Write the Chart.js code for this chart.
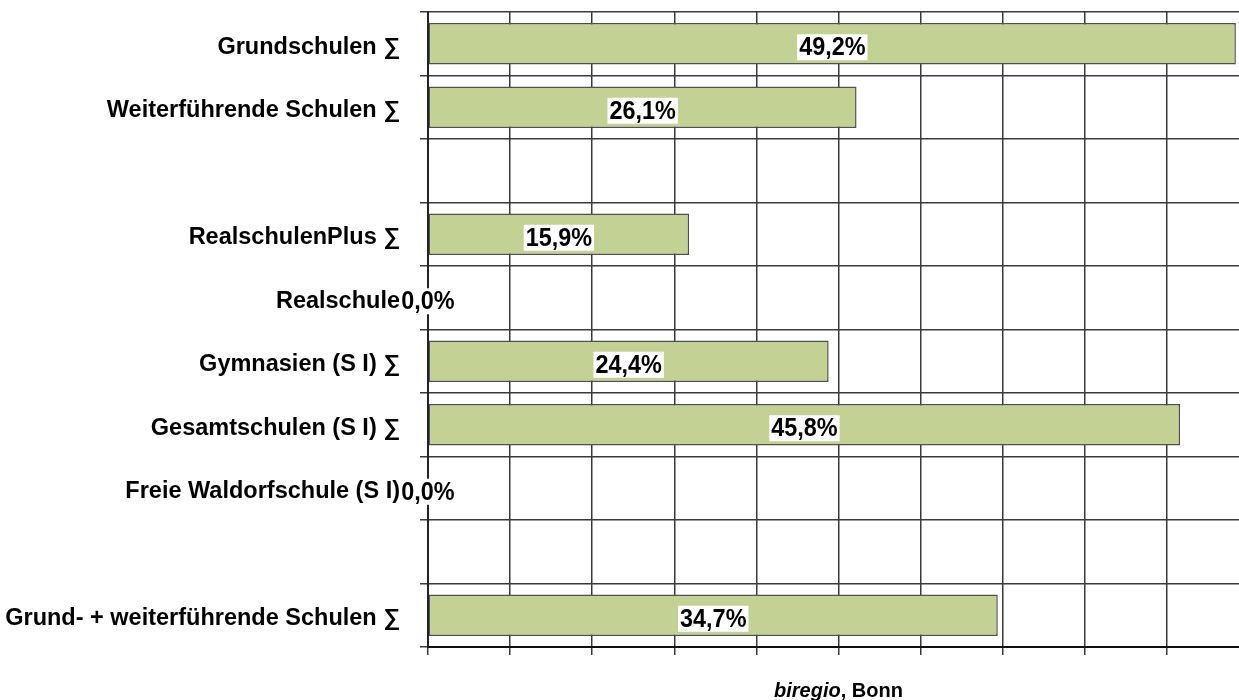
<!DOCTYPE html>
<html>
<head>
<meta charset="utf-8">
<script src="https://cdn.jsdelivr.net/npm/chart.js@4/dist/chart.umd.min.js"></script>
<style>
  html, body { margin: 0; padding: 0; background: #fff; overflow: hidden; }
  #wrap { width: 1239px; height: 700px; overflow: hidden; position: relative; }
  #box { width: 1250px; height: 700px; position: absolute; left: 0; top: 0; }
</style>
</head>
<body>
<div id="wrap"><div id="box"><canvas id="c"></canvas></div></div>
<script>
const categories = [
  'Grundschulen \u2211',
  'Weiterführende Schulen \u2211',
  '',
  'RealschulenPlus \u2211',
  'Realschule',
  'Gymnasien (S I) \u2211',
  'Gesamtschulen (S I) \u2211',
  'Freie Waldorfschule (S I)',
  '',
  'Grund- + weiterführende Schulen \u2211'
];
const values = [49.2, 26.1, null, 15.9, 0.0, 24.4, 45.8, 0.0, null, 34.7];
const xMin = 0;
const xMax = 50;
const xStep = 5;
const sourceItalic = 'biregio';
const sourceRest = ', Bonn';

const FONT = "'Liberation Sans', Arial, sans-serif";

const valueLabels = {
  id: 'valueLabels',
  afterDatasetsDraw(chart) {
    const ctx = chart.ctx;
    const meta = chart.getDatasetMeta(0);
    const data = chart.data.datasets[0].data;
    ctx.save();
    ctx.font = 'bold 26px ' + FONT;
    ctx.textAlign = 'center';
    ctx.textBaseline = 'middle';
    const sx = 0.9;
    meta.data.forEach((bar, i) => {
      const v = data[i];
      if (v === null || v === undefined) return;
      const txt = v.toFixed(1).replace('.', ',') + '%';
      const cx = (bar.x + bar.base) / 2;
      const cy = bar.y + 3.5;
      const w = ctx.measureText(txt).width * sx + 4;
      const h = 26;
      ctx.fillStyle = '#ffffff';
      ctx.fillRect(cx - w / 2, cy - h / 2, w, h);
      ctx.save();
      ctx.translate(cx, cy + 1);
      ctx.scale(sx, 1);
      ctx.fillStyle = '#000000';
      ctx.fillText(txt, 0, 0);
      ctx.restore();
    });
    ctx.restore();
  }
};

const sourceNote = {
  id: 'sourceNote',
  afterDraw(chart) {
    const ctx = chart.ctx;
    const a = chart.chartArea;
    ctx.save();
    ctx.textBaseline = 'alphabetic';
    ctx.fillStyle = '#000';
    const f1 = 'italic bold 20px ' + FONT;
    const f2 = 'bold 20px ' + FONT;
    ctx.font = f1;
    const w1 = ctx.measureText(sourceItalic).width;
    ctx.font = f2;
    const w2 = ctx.measureText(sourceRest).width;
    const cx = (a.left + a.right) / 2;
    const x0 = cx - (w1 + w2) / 2;
    const y = 697;
    ctx.textAlign = 'left';
    ctx.font = f1;
    ctx.fillText(sourceItalic, x0, y);
    ctx.font = f2;
    ctx.fillText(sourceRest, x0 + w1, y);
    ctx.restore();
  }
};

new Chart(document.getElementById('c'), {
  type: 'bar',
  data: {
    labels: categories,
    datasets: [{
      data: values,
      backgroundColor: '#c3d294',
      borderColor: '#4f4f4f',
      borderWidth: 1.5,
      borderSkipped: false,
      categoryPercentage: 1.0,
      barPercentage: 0.65
    }]
  },
  options: {
    indexAxis: 'y',
    responsive: true,
    maintainAspectRatio: false,
    animation: false,
    layout: { padding: { top: 12, right: 1, left: 0, bottom: 0 } },
    plugins: {
      legend: { display: false },
      tooltip: { enabled: false },
      title: { display: false }
    },
    scales: {
      x: {
        min: xMin,
        max: xMax,
        ticks: { stepSize: xStep, display: false },
        grid: { color: '#3a3a3a', lineWidth: 1.5, tickLength: 8, drawTicks: true },
        border: { display: true, color: '#111', width: 2 },
        afterFit(scale) { scale.height = 53; scale.paddingLeft = 0; scale.paddingRight = 0; }
      },
      y: {
        ticks: {
          color: '#000',
          font: { family: FONT, size: 23.5, weight: 'bold' },
          padding: 20,
          labelOffset: 3.5,
          autoSkip: false
        },
        grid: { color: '#3a3a3a', lineWidth: 1.5, tickLength: 8, offset: true },
        border: { display: true, color: '#222', width: 2 },
        afterFit(scale) { scale.width = 428; scale.paddingTop = 0; scale.paddingBottom = 0; }
      }
    }
  },
  plugins: [valueLabels, sourceNote]
});
</script>
</body>
</html>
